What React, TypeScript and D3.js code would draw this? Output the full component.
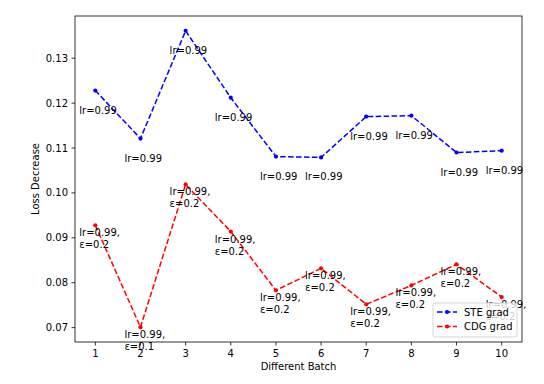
import * as d3 from "d3";

const batches = [1, 2, 3, 4, 5, 6, 7, 8, 9, 10];
const steGrad = [0.1228, 0.1121, 0.1361, 0.1212, 0.1081, 0.1079, 0.117, 0.1172, 0.109, 0.1094];
const cdgGrad = [0.0928, 0.0701, 0.1019, 0.0914, 0.0783, 0.0832, 0.0752, 0.0794, 0.0841, 0.0768];
const steLr = [0.99, 0.99, 0.99, 0.99, 0.99, 0.99, 0.99, 0.99, 0.99, 0.99];
const cdgLr = [0.99, 0.99, 0.99, 0.99, 0.99, 0.99, 0.99, 0.99, 0.99, 0.99];
const cdgEps = [0.2, 0.1, 0.2, 0.2, 0.2, 0.2, 0.2, 0.2, 0.2, 0.2];
const yTicks = [0.07, 0.08, 0.09, 0.1, 0.11, 0.12, 0.13];
const seriesNames = ["STE grad", "CDG grad"];

const W = 544;
const H = 384;
const left = 75;
const right = 522;
const top = 16;
const bottom = 342;
const font = "DejaVu Sans, sans-serif";
const dash = "5.55,2.4";

export default function App() {
  const all = [...steGrad, ...cdgGrad];
  const lo = d3.min(all)!;
  const hi = d3.max(all)!;
  const pad = (hi - lo) * 0.05;
  const x = d3.scaleLinear().domain([0.55, 10.45]).range([left, right]);
  const y = d3.scaleLinear().domain([lo - pad, hi + pad]).range([bottom, top]);

  const line = d3
    .line<number>()
    .x((_, i) => x(batches[i]))
    .y((d) => y(d));

  const series = [
    { name: seriesNames[0], values: steGrad, color: "#0000ff" },
    { name: seriesNames[1], values: cdgGrad, color: "#ff0000" },
  ];

  return (
    <svg
      width={W}
      height={H}
      style={{ position: "absolute", left: 0, top: 0, background: "#fff" }}
      fontFamily={font}
    >
      <rect width={W} height={H} fill="#fff" />
      {series.map((s) => (
        <g key={s.name}>
          <path d={line(s.values)!} fill="none" stroke={s.color} strokeWidth={1.5} strokeDasharray={dash} />
          {s.values.map((v, i) => (
            <circle key={i} cx={x(batches[i])} cy={y(v)} r={2.1} fill={s.color} />
          ))}
        </g>
      ))}
      {steGrad.map((v, i) => (
        <text key={"s" + i} x={x(batches[i]) - 16} y={y(v) + 23} fontSize={10} fill="#000">
          {`lr=${steLr[i]}`}
        </text>
      ))}
      {cdgGrad.map((v, i) => (
        <text key={"c" + i} x={x(batches[i]) - 16} y={y(v) + 11} fontSize={10} fill="#000">
          <tspan>{`lr=${cdgLr[i]},`}</tspan>
          <tspan x={x(batches[i]) - 16} dy={12}>{`ε=${cdgEps[i]}`}</tspan>
        </text>
      ))}
      {/* axes frame */}
      <rect x={left} y={top} width={right - left} height={bottom - top} fill="none" stroke="#000" strokeWidth={0.8} />
      {yTicks.map((t) => (
        <g key={t} transform={`translate(0,${y(t)})`}>
          <line x1={left - 3.5} x2={left} stroke="#000" strokeWidth={0.8} />
          <text x={left - 7} dy="0.35em" textAnchor="end" fontSize={10} fill="#000">
            {t.toFixed(2)}
          </text>
        </g>
      ))}
      {batches.map((b) => (
        <g key={b} transform={`translate(${x(b)},0)`}>
          <line y1={bottom} y2={bottom + 3.5} stroke="#000" strokeWidth={0.8} />
          <text y={bottom + 15} textAnchor="middle" fontSize={10} fill="#000">
            {b}
          </text>
        </g>
      ))}
      <text x={(left + right) / 2} y={370} textAnchor="middle" fontSize={10} fill="#000">
        Different Batch
      </text>
      <text
        transform={`translate(39,${(top + bottom) / 2}) rotate(-90)`}
        textAnchor="middle"
        fontSize={10}
        fill="#000"
      >
        Loss Decrease
      </text>
      {/* legend */}
      <g transform="translate(433,303)">
        <rect width={84} height={34} rx={2} fill="#fff" fillOpacity={0.8} stroke="#cccccc" strokeWidth={0.8} />
        {series.map((s, i) => (
          <g key={s.name} transform={`translate(0,${9 + i * 14.5})`}>
            <line x1={4} x2={24} stroke={s.color} strokeWidth={1.5} strokeDasharray={dash} />
            <circle cx={14} r={2.1} fill={s.color} />
            <text x={31} dy="0.35em" fontSize={10} fill="#000">
              {s.name}
            </text>
          </g>
        ))}
      </g>
    </svg>
  );
}
